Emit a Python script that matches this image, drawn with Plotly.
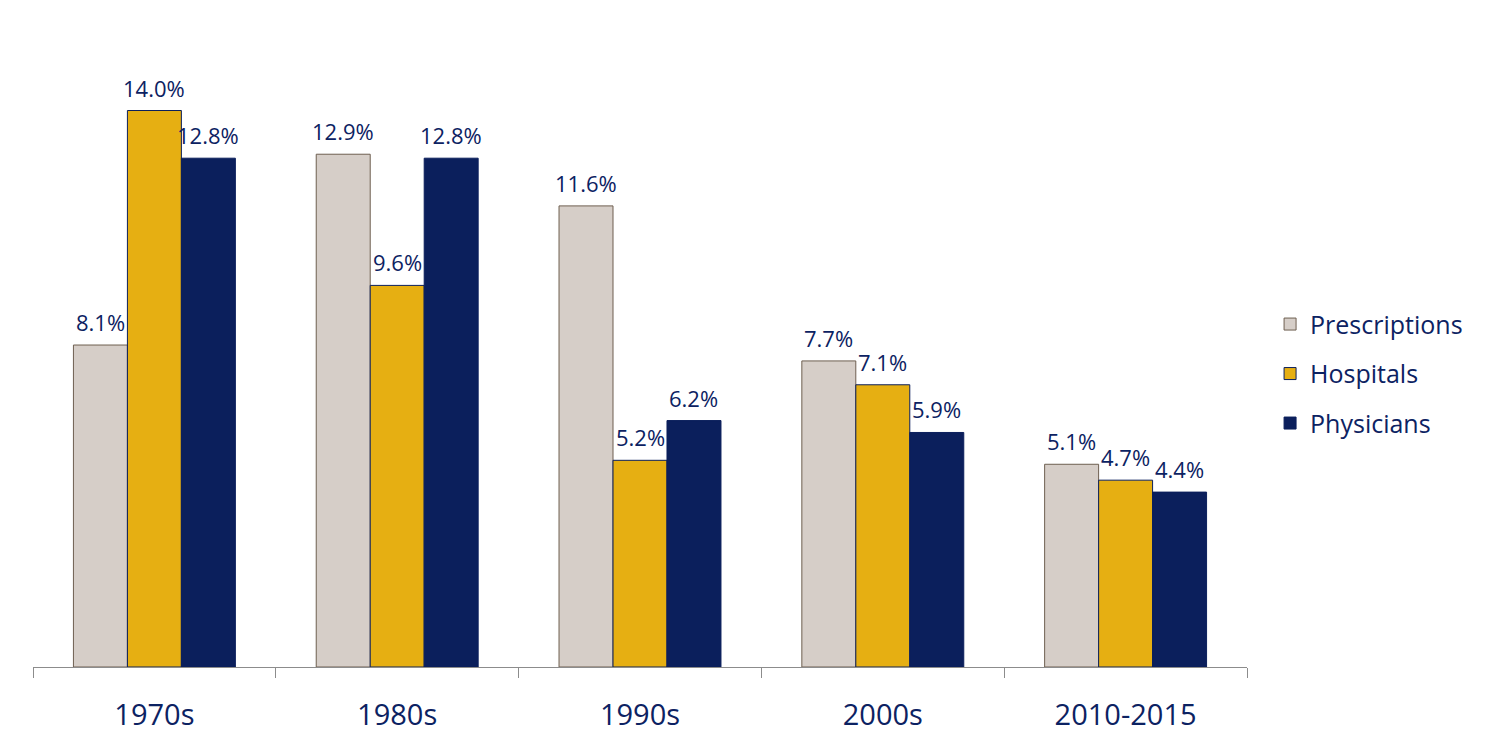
import plotly.graph_objects as go

categories = ["1970s", "1980s", "1990s", "2000s", "2010-2015"]
prescriptions = [8.1, 12.9, 11.6, 7.7, 5.1]
hospitals = [14.0, 9.6, 5.2, 7.1, 4.7]
physicians = [12.8, 12.8, 6.2, 5.9, 4.4]

navy = "#0B1F5C"
text_color = "#0C2262"
font_family = "Open Sans, Lato, sans-serif"
bargap = 0.333

fig = go.Figure()
series = [
    ("Prescriptions", prescriptions, "#D6CEC8", "#6E5F50"),
    ("Hospitals", hospitals, "#E6AF12", navy),
    ("Physicians", physicians, navy, navy),
]
n = len(series)
bw = (1 - bargap) / n
for i, (name, vals, color, line) in enumerate(series):
    fig.add_trace(go.Bar(
        name=name, x=categories, y=vals,
        marker=dict(color=color, line=dict(color=line, width=1)),
        legendgroup=name,
    ))
    for j, v in enumerate(vals):
        fig.add_annotation(
            x=j + (i - (n - 1) / 2) * bw, y=v, xref="x", yref="y",
            text=f"{v:.1f}%", showarrow=False,
            yanchor="bottom", yshift=6,
            font=dict(size=22, color=text_color, family=font_family),
        )

fig.update_layout(
    width=1489, height=751,
    margin=dict(l=25, r=250, t=23, b=92),
    paper_bgcolor="white", plot_bgcolor="white",
    barmode="group", bargap=bargap, bargroupgap=0,
    font=dict(family=font_family, color=text_color),
    showlegend=True,
    legend=dict(x=1.019, y=0.461, yanchor="middle", xanchor="left",
                font=dict(size=25, color=text_color, family=font_family),
                tracegroupgap=14, bgcolor="rgba(0,0,0,0)"),
    xaxis=dict(
        showline=True, linecolor="#8C8C8C", linewidth=1,
        ticks="outside", tickson="boundaries", ticklen=10, tickcolor="#8C8C8C",
        tickfont=dict(size=29, color=text_color, family=font_family),
        ticklabelstandoff=22,
        showgrid=False,
    ),
    yaxis=dict(range=[0, 16], visible=False, showgrid=False, zeroline=False),
)

fig.write_html("out.html")
